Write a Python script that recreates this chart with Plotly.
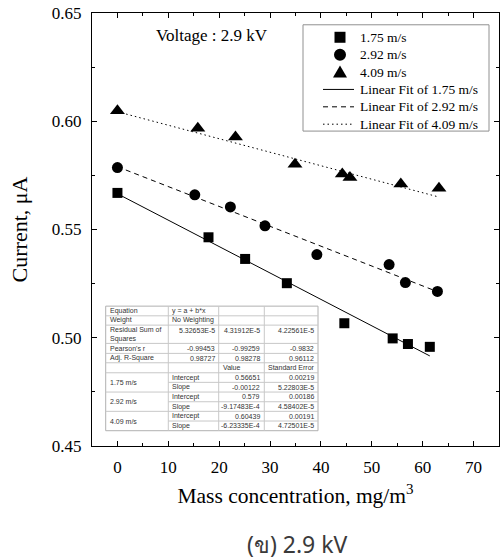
import numpy as np
import plotly.graph_objects as go

# ---------------- data ----------------
series_names = ["1.75 m/s", "2.92 m/s", "4.09 m/s"]

x_175 = [0, 17.9, 25.1, 33.3, 44.6, 54.1, 57.1, 61.4]
y_175 = [0.5669, 0.5464, 0.5364, 0.5252, 0.5067, 0.4997, 0.4971, 0.4958]

x_292 = [0, 15.2, 22.2, 29.0, 39.2, 53.4, 56.6, 62.9]
y_292 = [0.5786, 0.5660, 0.5604, 0.5517, 0.5384, 0.5338, 0.5255, 0.5214]

x_409 = [0, 15.8, 23.2, 34.9, 44.2, 45.7, 55.7, 63.2]
y_409 = [0.6049, 0.5968, 0.5927, 0.5801, 0.5756, 0.5740, 0.5710, 0.5690]

# linear fit parameters (from the fit table)
fit_intercepts = [0.56651, 0.579, 0.60439]
fit_slopes = [-0.00122, -9.17483e-4, -6.23335e-4]
intercept_labels = ["0.56651", "0.579", "0.60439"]
slope_labels = ["-0.00122", "-9.17483E-4", "-6.23335E-4"]
intercept_err_labels = ["0.00219", "0.00186", "0.00191"]
slope_err_labels = ["5.22803E-5", "4.58402E-5", "4.72501E-5"]
rss_labels = ["5.32653E-5", "4.31912E-5", "4.22561E-5"]
pearson_labels = ["-0.99453", "-0.99259", "-0.9832"]
adjr2_labels = ["0.98727", "0.98278", "0.96112"]

x_ticks = [0, 10, 20, 30, 40, 50, 60, 70]
y_ticks = [0.45, 0.50, 0.55, 0.60, 0.65]

# ---------------- figure ----------------
SERIF = "Liberation Serif, serif"
SANS = "Liberation Sans, Arial, sans-serif"

fig = go.Figure()
xs = [x_175, x_292, x_409]
ys = [y_175, y_292, y_409]
symbols = ["square", "circle", "triangle-up"]
sizes = [10, 11, 13]
dashes = ["solid", "5px,4px", "1.5px,3px"]

for name, x, y, sym, sz in zip(series_names, xs, ys, symbols, sizes):
    fig.add_trace(go.Scatter(x=x, y=y, mode="markers", name=name, showlegend=False,
                             marker=dict(symbol=sym, size=sz, color="black")))

for name, x, a, b, d in zip(series_names, xs, fit_intercepts, fit_slopes, dashes):
    fx = np.array([min(x), max(x)])
    fig.add_trace(go.Scatter(x=fx, y=a + b * fx, mode="lines", showlegend=False,
                             name="Linear Fit of " + name,
                             line=dict(color="black", width=1, dash=d)))

# ---------------- helpers: page pixel -> paper ----------------
PL, PR, PT, PB = 92.0, 499.0, 12.6, 446.0
def px(v):
    return (v - PL) / (PR - PL)
def py(v):
    return (PB - v) / (PB - PT)

shapes = []
annotations = []

# ---------------- legend (compact, drawn as decoration) ----------------
shapes.append(dict(type="rect", xref="paper", yref="paper",
                   x0=px(303), x1=px(489), y0=py(130.8), y1=py(24.4),
                   fillcolor="white", line=dict(color="#909090", width=1), layer="above"))
leg_y = [36.9, 54.3, 71.7, 89.1, 106.5, 123.9]
leg_labels = series_names + ["Linear Fit of " + n for n in series_names]
mx = 340.0
shapes.append(dict(type="rect", xref="paper", yref="paper", layer="above",
                   x0=px(mx - 5.5), x1=px(mx + 5.5), y0=py(leg_y[0] + 5.5), y1=py(leg_y[0] - 5.5),
                   fillcolor="black", line=dict(width=0)))
shapes.append(dict(type="circle", xref="paper", yref="paper", layer="above",
                   x0=px(mx - 6), x1=px(mx + 6), y0=py(leg_y[1] + 6), y1=py(leg_y[1] - 6),
                   fillcolor="black", line=dict(width=0)))
ty = leg_y[2]
shapes.append(dict(type="path", xref="paper", yref="paper", layer="above",
                   path="M %f %f L %f %f L %f %f Z" % (px(mx - 7), py(ty + 5.5), px(mx + 7), py(ty + 5.5),
                                                      px(mx), py(ty - 6.5)),
                   fillcolor="black", line=dict(width=0)))
for k, d in enumerate(dashes):
    yy = leg_y[3 + k]
    shapes.append(dict(type="line", xref="paper", yref="paper", layer="above",
                       x0=px(323), x1=px(354), y0=py(yy), y1=py(yy),
                       line=dict(color="black", width=1, dash=d)))
for lab, yy in zip(leg_labels, leg_y):
    annotations.append(dict(text=lab, x=px(357.5), y=py(yy), xref="paper", yref="paper",
                            xanchor="left", yanchor="middle", showarrow=False,
                            font=dict(family=SERIF, size=13.5, color="black")))

# ---------------- fit table (drawn with shapes + text) ----------------
cols = [105.7, 168.3, 218.7, 264.3, 318.0]
rows = [306.0, 315.7, 325.0, 343.3, 353.3, 362.7, 372.7, 382.3, 392.0, 401.7, 411.3, 421.0, 430.7]
grid = "#c8c8c8"
shapes.append(dict(type="rect", xref="paper", yref="paper",
                   x0=px(cols[0]), x1=px(cols[-1]), y0=py(rows[-1]), y1=py(rows[0]),
                   fillcolor="white", line=dict(color="#b0b0b0", width=1), layer="above"))
for i, r in enumerate(rows[1:-1], start=1):
    x0 = cols[1] if i in (7, 9, 11) else cols[0]
    shapes.append(dict(type="line", xref="paper", yref="paper",
                       x0=px(x0), x1=px(cols[-1]), y0=py(r), y1=py(r),
                       line=dict(color=grid, width=1), layer="above"))
for c in cols[1:-1]:
    shapes.append(dict(type="line", xref="paper", yref="paper",
                       x0=px(c), x1=px(c), y0=py(rows[-1]), y1=py(rows[0]),
                       line=dict(color=grid, width=1), layer="above"))

def cell(text, col, r0, r1, align="left", valign="middle"):
    pad = 2.0
    if align == "left":
        x = px(cols[col] + pad); xa = "left"
    else:
        x = px(cols[col + 1] - pad); xa = "right"
    if valign == "middle":
        y = py((rows[r0] + rows[r1]) / 2); ya = "middle"
    else:
        y = py(rows[r0] + 0.3); ya = "top"
    annotations.append(dict(text=text, x=x, y=y, xref="paper", yref="paper",
                            xanchor=xa, yanchor=ya, showarrow=False,
                            font=dict(family=SANS, size=7, color="#333"), align="left"))

cell("Equation", 0, 0, 1)
cell("y = a + b*x", 1, 0, 1)
cell("Weight", 0, 1, 2)
cell("No Weighting", 1, 1, 2)
cell("Residual Sum of<br>Squares", 0, 2, 3)
for k in range(3):
    cell(rss_labels[k], 1 + k, 2, 3, align="right", valign="top")
cell("Pearson's r", 0, 3, 4)
cell("Adj. R-Square", 0, 4, 5)
for k in range(3):
    cell(pearson_labels[k], 1 + k, 3, 4, align="right")
    cell(adjr2_labels[k], 1 + k, 4, 5, align="right")
cell("Value", 2, 5, 6)
cell("Standard Error", 3, 5, 6)
for k in range(3):
    r = 6 + 2 * k
    cell(series_names[k], 0, r, r + 2)
    cell("Intercept", 1, r, r + 1)
    cell("Slope", 1, r + 1, r + 2)
    cell(intercept_labels[k], 2, r, r + 1, align="right")
    cell(intercept_err_labels[k], 3, r, r + 1, align="right")
    cell(slope_labels[k], 2, r + 1, r + 2, align="right")
    cell(slope_err_labels[k], 3, r + 1, r + 2, align="right")

annotations.append(dict(text="Voltage : 2.9 kV", x=px(212), y=py(35.5), xref="paper", yref="paper",
                        showarrow=False, xanchor="center", yanchor="middle",
                        font=dict(family=SERIF, size=17, color="black")))
annotations.append(dict(text="(ข) 2.9 kV", x=px(297.5), y=py(544), xref="paper", yref="paper",
                        showarrow=False, xanchor="center", yanchor="middle",
                        font=dict(family="Noto Sans, DejaVu Sans, sans-serif", size=23, color="#3a3a3a")))

axis_common = dict(showline=True, linecolor="black", linewidth=1.3, mirror="ticks",
                   ticks="inside", ticklen=5, tickwidth=1, tickcolor="black",
                   showgrid=False, zeroline=False, automargin=False,
                   ticklabeloverflow="allow",
                   tickfont=dict(family=SERIF, size=17, color="black"))

fig.update_layout(
    width=504, height=560,
    margin=dict(l=PL, r=504 - PR, t=PT, b=560 - PB),
    plot_bgcolor="white", paper_bgcolor="white",
    showlegend=False,
    xaxis=dict(range=[-5, 75], tickvals=x_ticks, ticktext=[str(v) for v in x_ticks],
               minor=dict(ticks="inside", ticklen=3, dtick=5, tick0=0, tickcolor="black"),
               ticklabelstandoff=5,
               title=dict(text="Mass concentration, mg/m<sup>3</sup>", standoff=12,
                          font=dict(family=SERIF, size=21.5, color="black")),
               **axis_common),
    yaxis=dict(range=[0.45, 0.65], tickvals=y_ticks, ticktext=["%.2f" % v for v in y_ticks],
               minor=dict(ticks="inside", ticklen=3, dtick=0.025, tick0=0.45, tickcolor="black"),
               ticklabelstandoff=6,
               title=dict(text="Current, μA", standoff=18,
                          font=dict(family=SERIF, size=22, color="black")),
               **axis_common),
    shapes=shapes,
    annotations=annotations,
)

# remove the default 8px page margin so the figure sits at the window's top-left corner
fig.write_html("out.html", config={"displayModeBar": False},
               post_script="document.body.style.margin='0';document.body.style.padding='0';")
